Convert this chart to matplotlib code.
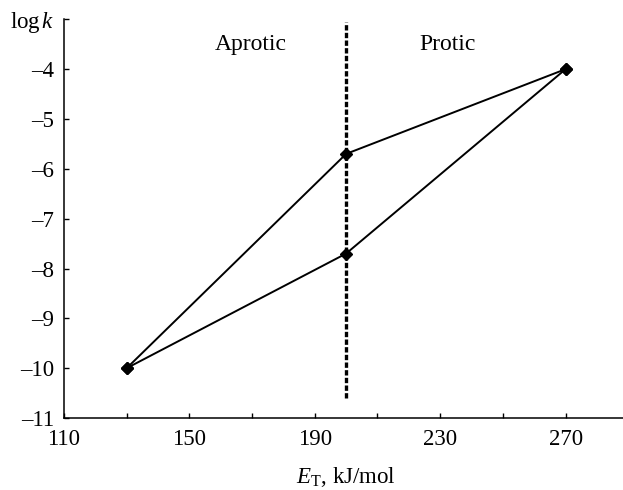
import matplotlib
matplotlib.use('Agg')
import matplotlib.pyplot as plt

plt.rcParams['font.family'] = ['Liberation Serif', 'DejaVu Serif']
plt.rcParams['mathtext.fontset'] = 'custom'
plt.rcParams['mathtext.rm'] = 'Liberation Serif'
plt.rcParams['mathtext.it'] = 'Liberation Serif:italic'

# data
et = [130, 200, 270]
logk_upper = [-10, -5.7, -4]
logk_lower = [-10, -7.7, -4]
divider_x = 200
divider_y = [-10.6, -3.06]

xticks = [110, 130, 150, 170, 190, 210, 230, 250, 270, 290]
xlabels = ['110', '', '150', '', '190', '', '230', '', '270', '']
yticks = [-11, -10, -9, -8, -7, -6, -5, -4, -3]
ylabels = ['–' + str(abs(v)) for v in yticks[:-1]] + ['log$\\,k$']

fig = plt.figure(figsize=(6.23, 4.9), dpi=100)
ax = fig.add_axes([0.1027, 0.1469, 0.9058, 0.8137])

ax.plot(et, logk_upper, color='black', lw=1.4, marker='D', ms=6.5)
ax.plot(et, logk_lower, color='black', lw=1.4, marker='D', ms=6.5)
ax.plot([divider_x, divider_x], divider_y, color='black', lw=2.4,
        linestyle=(0, (1.6, 0.7)))

ax.text(169.5, -3.5, 'Aprotic', ha='center', va='center', fontsize=17)
ax.text(232.5, -3.5, 'Protic', ha='center', va='center', fontsize=17)

ax.set_xlim(110, 290)
ax.set_ylim(-11, -3)
ax.set_xticks(xticks)
ax.set_xticklabels(xlabels)
ax.set_yticks(yticks)
ax.set_yticklabels(ylabels)
ax.tick_params(direction='in', length=3.6, width=1.0, labelsize=16.5)
ax.tick_params(axis='x', pad=8)
ax.tick_params(axis='y', pad=7)

ax.spines['right'].set_color('none')
ax.spines['top'].set_color('none')
ax.spines['left'].set_linewidth(1.1)
ax.spines['bottom'].set_linewidth(1.1)

ax.set_xlabel(r'$E_{\mathrm{T}}$, kJ/mol', fontsize=16.5, labelpad=11)

fig.savefig('out.png', dpi=100)
